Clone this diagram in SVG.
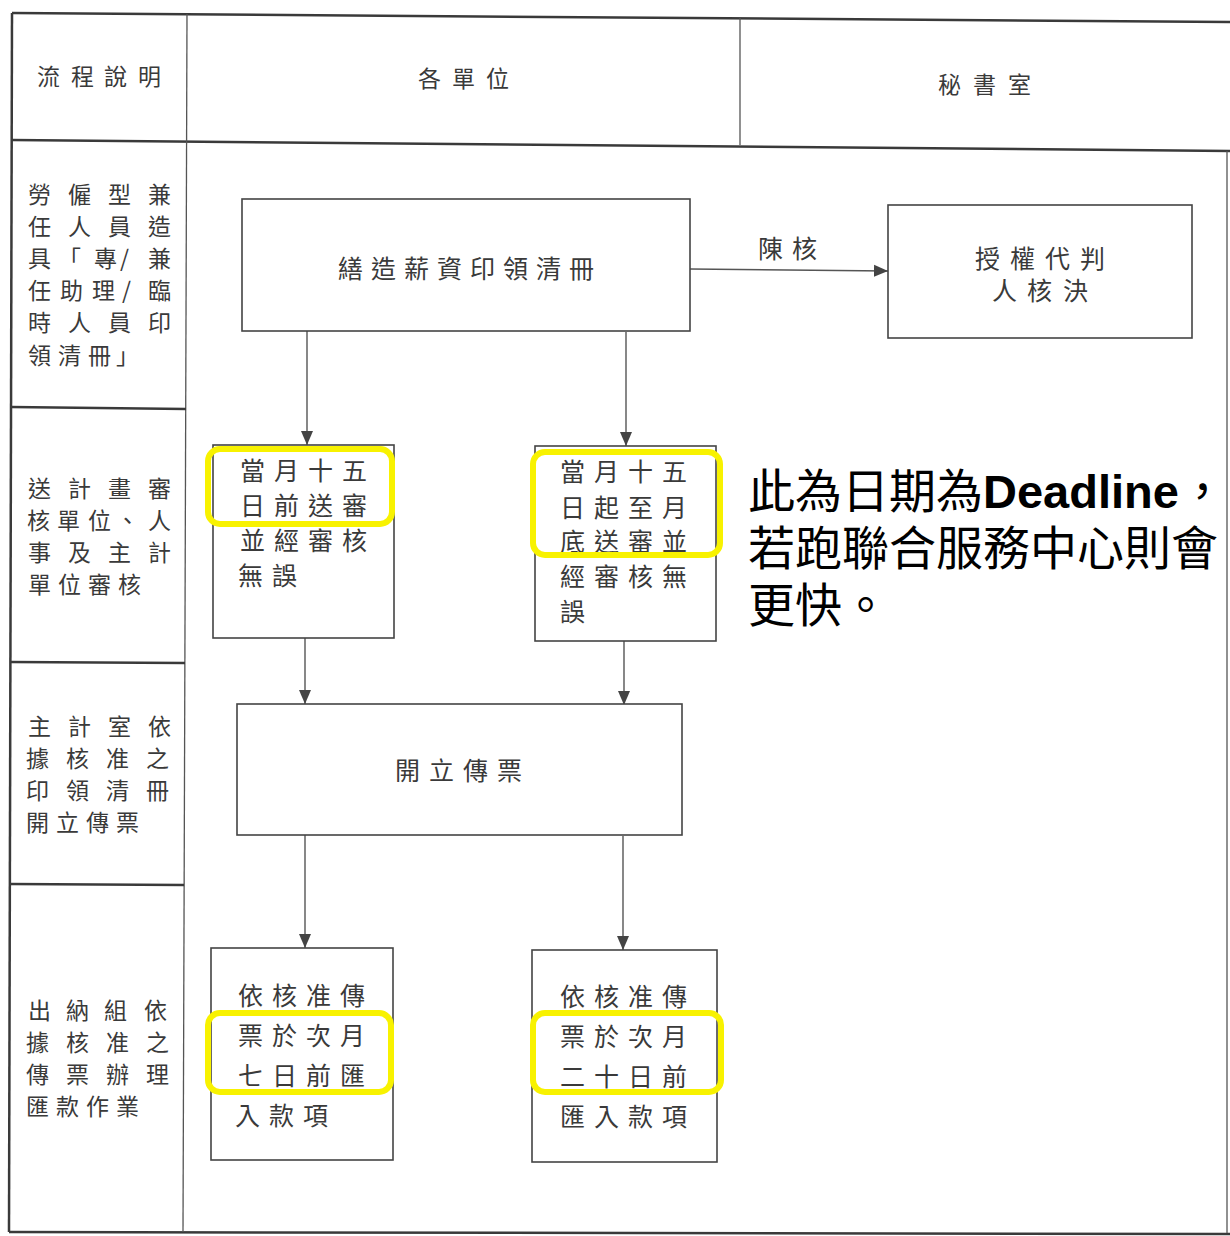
<svg xmlns="http://www.w3.org/2000/svg" width="1230" height="1236" viewBox="0 0 1230 1236">
<style>
.frame{stroke:#3a3a3a;stroke-width:2.5;fill:none}
.thin{stroke:#555;stroke-width:1.3;fill:none}
.box{stroke:#444;stroke-width:1.6;fill:#fff}
.conn{stroke:#555;stroke-width:1.4;fill:none}
.hl{stroke:#f8f200;stroke-width:6;fill:none}
.t{font-family:"Noto Sans CJK TC","Noto Sans CJK SC",sans-serif;font-weight:400;fill:#3a3a3a;font-size:23px}
.b{font-size:25px}
.note{font-family:"Noto Sans CJK TC","Noto Sans CJK SC",sans-serif;fill:#000;font-size:47px}
.en{font-family:"Liberation Sans",Arial,sans-serif;font-weight:bold}
</style>
<defs>
<marker id="ah" markerUnits="userSpaceOnUse" markerWidth="14" markerHeight="14" viewBox="0 0 14 14" refX="14" refY="7" orient="auto">
<path d="M0,1 L14,7 L0,13 Z" fill="#444"/>
</marker>
</defs>
<rect width="1230" height="1236" fill="#fff"/>
<g id="frame">
<line class="frame" x1="12" y1="13" x2="1230" y2="22"/>
<line class="frame" x1="12" y1="140" x2="1230" y2="151"/>
<line class="frame" x1="12" y1="13" x2="9" y2="1232"/>
<line class="frame" x1="9" y1="1232" x2="1230" y2="1234"/>
<line class="thin" x1="1227" y1="151" x2="1227" y2="1233"/>
<line class="thin" x1="187" y1="14" x2="183" y2="1232"/>
<line class="thin" x1="740" y1="18" x2="740" y2="145"/>
<line class="frame" x1="11" y1="407" x2="186" y2="409"/>
<line class="frame" x1="10" y1="662" x2="185" y2="663"/>
<line class="frame" x1="10" y1="884" x2="184" y2="885"/>
</g>
<g id="headers">
<text class="t" y="85" x="37 71 104 138">流程說明</text>
<text class="t" y="87" x="418 452 486">各單位</text>
<text class="t" y="93" x="938 973 1008">秘書室</text>
</g>
<g id="desc1">
<text class="t" y="203" x="28 68 108 148">勞僱型兼</text>
<text class="t" y="235" x="28 68 108 148">任人員造</text>
<text class="t" y="267" x="28 58 94 120 148">具「專/兼</text>
<text class="t" y="299" x="28 60 92 122 148">任助理/臨</text>
<text class="t" y="331" x="28 68 108 148">時人員印</text>
<text class="t" y="364" x="28 58 88 116">領清冊」</text>
</g>
<g id="desc2">
<text class="t" y="497" x="28 68 108 148">送計畫審</text>
<text class="t" y="529" x="27 57 88 116 148">核單位、人</text>
<text class="t" y="561" x="28 68 108 148">事及主計</text>
<text class="t" y="593" x="28 58 88 118">單位審核</text>
</g>
<g id="desc3">
<text class="t" y="735" x="28 68 108 148">主計室依</text>
<text class="t" y="767" x="26 66 106 146">據核准之</text>
<text class="t" y="799" x="26 66 106 146">印領清冊</text>
<text class="t" y="831" x="26 56 86 116">開立傳票</text>
</g>
<g id="desc4">
<text class="t" y="1019" x="28 66 104 144">出納組依</text>
<text class="t" y="1051" x="26 66 106 146">據核准之</text>
<text class="t" y="1083" x="26 66 106 146">傳票辦理</text>
<text class="t" y="1115" x="26 56 86 116">匯款作業</text>
</g>
<g id="connectors">
<line class="conn" x1="307" y1="331" x2="307" y2="445" marker-end="url(#ah)"/>
<line class="conn" x1="626" y1="332" x2="626" y2="446" marker-end="url(#ah)"/>
<line class="conn" x1="690" y1="269" x2="888" y2="271" marker-end="url(#ah)"/>
<line class="conn" x1="305" y1="638" x2="305" y2="704" marker-end="url(#ah)"/>
<line class="conn" x1="624" y1="641" x2="624" y2="705" marker-end="url(#ah)"/>
<line class="conn" x1="305" y1="835" x2="305" y2="948" marker-end="url(#ah)"/>
<line class="conn" x1="623" y1="836" x2="623" y2="950" marker-end="url(#ah)"/>
<text class="t b" y="258" x="758 792">陳核</text>
</g>
<g id="n1">
<rect class="box" x="242" y="199" width="448" height="132"/>
<text class="t b" y="278" x="338 371 404 437 470 503 536 569">繕造薪資印領清冊</text>
</g>
<g id="n2">
<rect class="box" x="888" y="205" width="304" height="133"/>
<text class="t b" y="268" x="975 1010 1045 1080">授權代判</text>
<text class="t b" y="300" x="992 1027 1063">人核決</text>
</g>
<g id="n3">
<rect class="box" x="213" y="445" width="181" height="193"/>
<text class="t b" y="480" x="240 274 308 342">當月十五</text>
<text class="t b" y="515" x="240 274 308 342">日前送審</text>
<text class="t b" y="550" x="240 274 308 342">並經審核</text>
<text class="t b" y="585" x="238 272">無誤</text>
</g>
<g id="n4">
<rect class="box" x="535" y="446" width="181" height="195"/>
<text class="t b" y="481" x="560 594 628 662">當月十五</text>
<text class="t b" y="517" x="560 594 628 662">日起至月</text>
<text class="t b" y="551" x="560 594 628 662">底送審並</text>
<text class="t b" y="586" x="560 594 628 662">經審核無</text>
<text class="t b" y="621" x="560">誤</text>
</g>
<g id="n5">
<rect class="box" x="237" y="704" width="445" height="131"/>
<text class="t b" y="780" x="395 429 463 497">開立傳票</text>
</g>
<g id="n6">
<rect class="box" x="211" y="948" width="182" height="212"/>
<text class="t b" y="1005" x="238 272 306 340">依核准傳</text>
<text class="t b" y="1045" x="238 272 306 340">票於次月</text>
<text class="t b" y="1085" x="238 272 306 340">七日前匯</text>
<text class="t b" y="1125" x="235 269 303">入款項</text>
</g>
<g id="n7">
<rect class="box" x="532" y="950" width="185" height="212"/>
<text class="t b" y="1006" x="560 594 628 662">依核准傳</text>
<text class="t b" y="1046" x="560 594 628 662">票於次月</text>
<text class="t b" y="1086" x="560 594 628 662">二十日前</text>
<text class="t b" y="1126" x="560 594 628 662">匯入款項</text>
</g>
<g id="highlights">
<rect class="hl" x="208" y="449" width="184" height="75" rx="12"/>
<rect class="hl" x="533" y="452" width="187" height="103" rx="12"/>
<rect class="hl" x="208" y="1013" width="183" height="79" rx="12"/>
<rect class="hl" x="533" y="1013" width="188" height="79" rx="12"/>
</g>
<g id="note">
<text class="note" x="748" y="508">此為日期為<tspan class="en">Deadline</tspan>，<tspan x="748" y="565">若跑聯合服務中心則會</tspan><tspan x="748" y="622">更快。</tspan></text>
</g>
</svg>
